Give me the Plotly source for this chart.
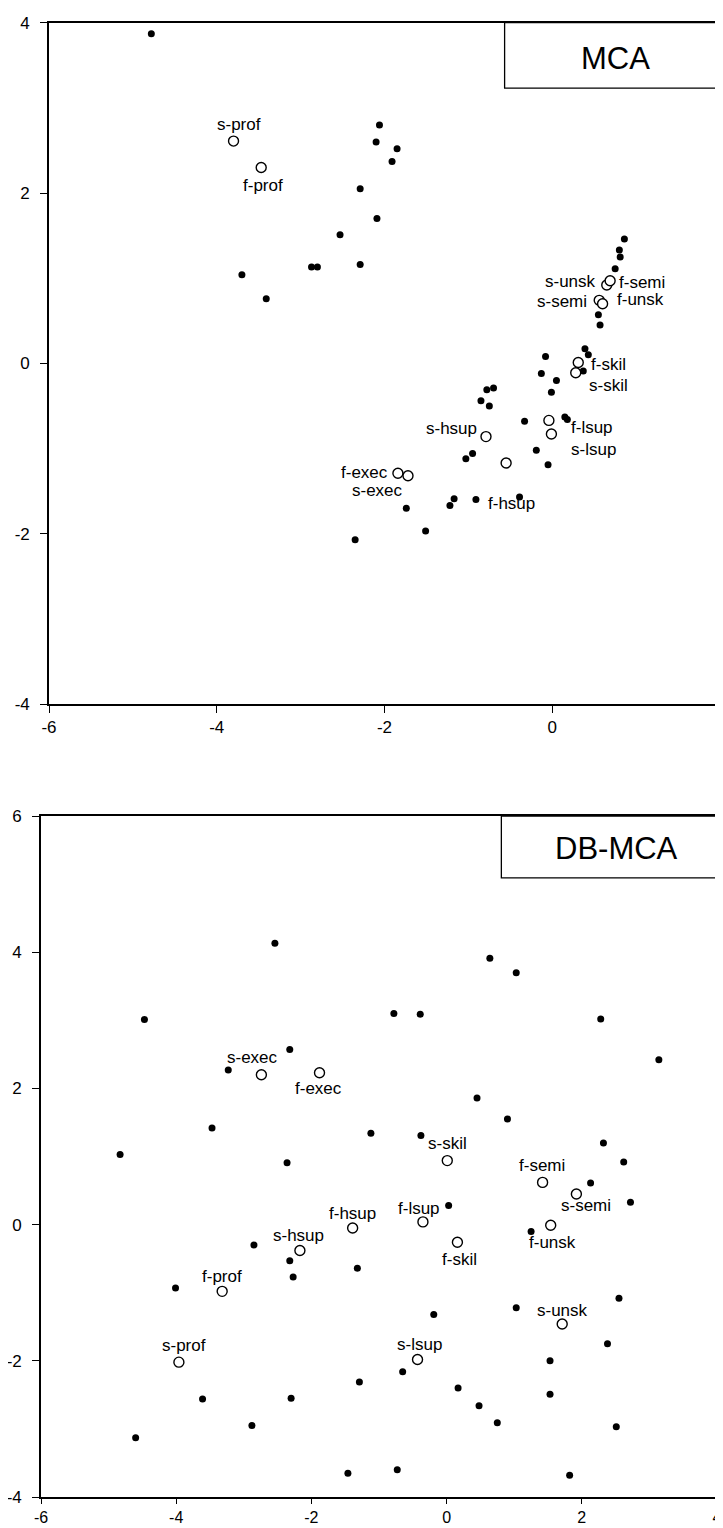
import plotly.graph_objects as go

# ---------------- MCA (top panel) ----------------
mca_dot_x = [-4.78, -2.06, -2.10, -1.85, -1.91, -2.29, -2.09, -2.53, -2.87, -2.80, -2.29, -3.70, -3.41,
             0.86, 0.80, 0.81, 0.75, 0.55, 0.57, 0.39, 0.43, -0.08, 0.37, -0.13, 0.05, -0.01,
             -0.78, -0.70, -0.85, -0.75, -0.33, 0.15, 0.18, -0.19, -1.03, -0.95, -0.05,
             -1.17, -1.22, -0.91, -0.39, -1.74, -1.51, -2.35]
mca_dot_y = [3.87, 2.80, 2.60, 2.52, 2.37, 2.05, 1.70, 1.51, 1.13, 1.13, 1.16, 1.04, 0.76,
             1.46, 1.33, 1.25, 1.11, 0.57, 0.45, 0.17, 0.10, 0.08, -0.09, -0.12, -0.20, -0.34,
             -0.31, -0.29, -0.44, -0.50, -0.68, -0.63, -0.66, -1.02, -1.12, -1.06, -1.19,
             -1.59, -1.67, -1.60, -1.57, -1.70, -1.97, -2.07]

mca_cat_labels = ["s-prof", "f-prof", "s-unsk", "f-semi", "s-semi", "f-unsk", "f-skil", "s-skil",
                  "f-lsup", "s-lsup", "s-hsup", "f-hsup", "f-exec", "s-exec"]
mca_cat_x = [-3.80, -3.47, 0.65, 0.69, 0.56, 0.60, 0.31, 0.28, -0.04, -0.01, -0.79, -0.55, -1.84, -1.72]
mca_cat_y = [2.61, 2.30, 0.92, 0.97, 0.74, 0.70, 0.01, -0.11, -0.67, -0.83, -0.86, -1.17, -1.29, -1.32]

# ---------------- DB-MCA (bottom panel) ----------------
db_dot_x = [-2.54, -4.47, -2.32, -3.23, -3.47, -4.83, 0.64, 1.03, -0.78, -0.39, 2.28, 3.14, 0.45, 0.90,
            -1.12, -0.38, 2.32, -2.36, -2.85, -2.32, -1.32, -2.27, -4.01, -1.29, -3.61, -2.30, -2.88,
            -4.60, -1.46, 2.62, 2.13, 2.72, 0.03, 1.25, 2.55, 1.03, -0.19, 2.38, 1.53, -0.65, 0.17,
            1.53, 0.48, 0.75, 2.51, -0.73, 1.82]
db_dot_y = [4.13, 3.01, 2.57, 2.27, 1.42, 1.03, 3.91, 3.70, 3.10, 3.09, 3.02, 2.42, 1.86, 1.55,
            1.34, 1.31, 1.20, 0.91, -0.30, -0.53, -0.64, -0.77, -0.93, -2.31, -2.56, -2.55, -2.95,
            -3.13, -3.65, 0.92, 0.61, 0.33, 0.28, -0.10, -1.08, -1.22, -1.32, -1.75, -2.00, -2.16, -2.40,
            -2.49, -2.66, -2.91, -2.97, -3.60, -3.68]

db_cat_labels = ["s-exec", "f-exec", "s-skil", "f-semi", "s-semi", "f-lsup", "f-unsk", "f-skil",
                 "f-hsup", "s-hsup", "f-prof", "s-prof", "s-unsk", "s-lsup"]
db_cat_x = [-2.74, -1.88, 0.01, 1.42, 1.92, -0.35, 1.54, 0.16, -1.39, -2.17, -3.32, -3.96, 1.71, -0.43]
db_cat_y = [2.20, 2.23, 0.94, 0.62, 0.45, 0.04, -0.01, -0.26, -0.05, -0.38, -0.98, -2.02, -1.46, -1.98]

top_ticks_x = [-6, -4, -2, 0, 2]
top_ticks_y = [-4, -2, 0, 2, 4]
bot_ticks_x = [-6, -4, -2, 0, 2, 4]
bot_ticks_y = [-4, -2, 0, 2, 4, 6]

# label placement (anchor, xshift px, yshift px)
mca_label_place = {
    "s-prof": ("center", 5, 17), "f-prof": ("center", 2, -18),
    "s-unsk": ("right", -9, 4), "f-semi": ("left", 7, -2),
    "s-semi": ("right", -10, -1), "f-unsk": ("left", 12, 4),
    "f-skil": ("left", 11, -2), "s-skil": ("left", 11, -13),
    "f-lsup": ("left", 20, -7), "s-lsup": ("left", 18, -15),
    "s-hsup": ("right", -7, 8), "f-hsup": ("left", -20, -41),
    "f-exec": ("right", -8, 1), "s-exec": ("right", -3, -15),
}
db_label_place = {
    "s-exec": ("center", -9, 17), "f-exec": ("center", -1, -16),
    "s-skil": ("center", 0, 17), "f-semi": ("center", -1, 17),
    "s-semi": ("center", 10, -12), "f-unsk": ("center", 2, -17),
    "f-lsup": ("center", -4, 13), "f-skil": ("center", 2, -17),
    "f-hsup": ("center", 0, 15), "s-hsup": ("center", -1, 15),
    "f-prof": ("center", 0, 15), "s-prof": ("center", 5, 17),
    "s-unsk": ("center", 0, 14), "s-lsup": ("center", 2, 15),
}

FONT = "Liberation Sans, Arial, Helvetica, sans-serif"
W, H = 723, 1528

fig = go.Figure()

def add_panel(dx, dy, cx, cy, xa, ya):
    fig.add_trace(go.Scatter(x=dx, y=dy, mode="markers", xaxis=xa, yaxis=ya,
                             marker=dict(size=7, color="black", line=dict(width=0)),
                             showlegend=False, hoverinfo="skip"))
    fig.add_trace(go.Scatter(x=cx, y=cy, mode="markers", xaxis=xa, yaxis=ya,
                             marker=dict(size=10, color="white", symbol="circle",
                                         line=dict(width=1.4, color="black")),
                             showlegend=False, hoverinfo="skip"))

add_panel(mca_dot_x, mca_dot_y, mca_cat_x, mca_cat_y, "x", "y")
add_panel(db_dot_x, db_dot_y, db_cat_x, db_cat_y, "x2", "y2")

annotations = []
for lab, x, y in zip(mca_cat_labels, mca_cat_x, mca_cat_y):
    anc, xs, ys = mca_label_place[lab]
    annotations.append(dict(x=x, y=y, xref="x", yref="y", text=lab, showarrow=False,
                            xanchor=anc, yanchor="middle", xshift=xs, yshift=ys,
                            font=dict(family=FONT, size=17, color="black")))
for lab, x, y in zip(db_cat_labels, db_cat_x, db_cat_y):
    anc, xs, ys = db_label_place[lab]
    annotations.append(dict(x=x, y=y, xref="x2", yref="y2", text=lab, showarrow=False,
                            xanchor=anc, yanchor="middle", xshift=xs, yshift=ys,
                            font=dict(family=FONT, size=17, color="black")))

annotations.append(dict(x=0.845, y=0.948, xref="x domain", yref="y domain", text="MCA",
                        showarrow=False, xanchor="center", yanchor="middle",
                        font=dict(family=FONT, size=31, color="black")))
annotations.append(dict(x=0.851, y=0.952, xref="x2 domain", yref="y2 domain", text="DB-MCA",
                        showarrow=False, xanchor="center", yanchor="middle",
                        font=dict(family=FONT, size=31, color="black")))

shapes = [
    dict(type="rect", xref="x domain", yref="y domain", x0=0.679, x1=1, y0=0.904, y1=1,
         line=dict(color="black", width=1.3), fillcolor="white", layer="below"),
    dict(type="rect", xref="x2 domain", yref="y2 domain", x0=0.681, x1=1, y0=0.909, y1=1,
         line=dict(color="black", width=1.3), fillcolor="white", layer="below"),
]

def axis(rng, ticks, domain, anchor, standoff, tlen, fsize):
    return dict(range=rng, domain=domain, anchor=anchor, tickvals=ticks,
                ticktext=[str(t) for t in ticks], showgrid=False, zeroline=False,
                showline=True, linecolor="black", linewidth=1.6, mirror=True,
                ticks="outside", ticklen=tlen, tickwidth=1.3, tickcolor="black",
                ticklabelstandoff=standoff, ticklabeloverflow="allow",
                tickfont=dict(family=FONT, size=fsize, color="black"),
                fixedrange=True, automargin=False)

layout = dict(
    width=W, height=H, margin=dict(l=0, r=0, t=0, b=0),
    paper_bgcolor="white", plot_bgcolor="white",
    xaxis=axis([-6, 2], top_ticks_x, [41 / W, 712 / W], "y", 0, 7, 17),
    yaxis=axis([-4, 4], top_ticks_y, [1 - 696 / H, 1 - 14.7 / H], "x", 7, 7, 17),
    xaxis2=axis([-6, 4], bot_ticks_x, [33 / W, 709 / W], "y2", 0, 5, 16),
    yaxis2=axis([-4, 6], bot_ticks_y, [1 - 1489 / H, 1 - 808 / H], "x2", 7, 7, 17),
    annotations=annotations, shapes=shapes,
)
fig.update_layout(**layout)
fig.write_html("out.html")
